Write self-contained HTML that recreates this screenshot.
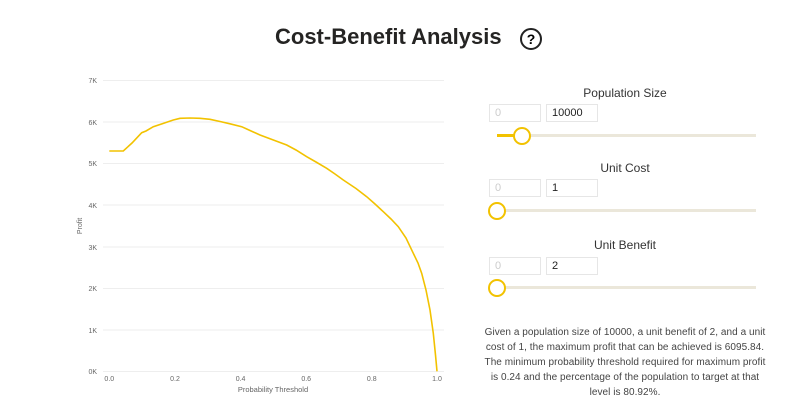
<!DOCTYPE html>
<html><head><meta charset="utf-8"><style>
body{margin:0;width:800px;height:414px;background:#fff;font-family:"Liberation Sans",sans-serif;position:relative;overflow:hidden}
.t{position:absolute;white-space:nowrap}
.lbl{position:absolute;left:489px;width:272px;text-align:center;font-size:12px;color:#333}
.in{position:absolute;width:52px;height:18px;border:1px solid #e6e6e6;font-size:11px;line-height:17px;padding-left:5px;box-sizing:border-box;color:#222}
.track{position:absolute;left:497px;width:259px;height:3px;background:#ebe7da}
.thumb{position:absolute;width:14px;height:14px;border:2px solid #f2c200;border-radius:50%;background:#fff}
p{position:absolute;left:460px;width:330px;margin:0;text-align:center;font-size:10px;letter-spacing:0.05px;line-height:15px;color:#444;white-space:nowrap}
</style></head><body>
<div class="t" style="left:275px;top:24px;font-size:22px;font-weight:bold;color:#252423">Cost-Benefit Analysis</div>
<div class="t" style="left:520px;top:28px;width:18px;height:18px;border:2px solid #222;border-radius:50%;text-align:center;font-size:14px;font-weight:bold;line-height:18px">?</div>
<svg width="480" height="414" style="position:absolute;left:0;top:0" font-family="Liberation Sans, sans-serif">
<g stroke="#eee" stroke-width="1">
<line x1="103" x2="444" y1="80.5" y2="80.5"/><line x1="103" x2="444" y1="122" y2="122"/><line x1="103" x2="444" y1="163.5" y2="163.5"/><line x1="103" x2="444" y1="205" y2="205"/><line x1="103" x2="444" y1="247" y2="247"/><line x1="103" x2="444" y1="288.5" y2="288.5"/><line x1="103" x2="444" y1="330" y2="330"/><line x1="103" x2="444" y1="371.5" y2="371.5"/>
</g>
<g font-size="7" fill="#666" text-anchor="end">
<text x="97" y="83">7K</text><text x="97" y="125">6K</text><text x="97" y="166">5K</text><text x="97" y="208">4K</text><text x="97" y="250">3K</text><text x="97" y="291">2K</text><text x="97" y="333">1K</text><text x="97" y="374">0K</text>
</g>
<g font-size="7" fill="#666" text-anchor="middle">
<text x="109.3" y="381">0.0</text><text x="175" y="381">0.2</text><text x="240.6" y="381">0.4</text><text x="306.2" y="381">0.6</text><text x="371.8" y="381">0.8</text><text x="437" y="381">1.0</text>
<text x="273" y="392" font-size="7.5">Probability Threshold</text>
<text transform="translate(82,226) rotate(-90)" font-size="7">Profit</text>
</g>
<polyline fill="none" stroke="#f2c200" stroke-width="1.6" points="109.3,151 123.3,151 132,143 141.7,132.7 146,131 153.3,126.7 163,123.5 173.3,120 180,118.3 190,118 200,118.3 210,119.3 220,121.5 230,123.8 241.7,126.7 250,130.5 260,135 272,139.5 286.7,145 296,150 306.7,156.7 316,162 326.7,168.3 335,174 343.3,180 356,188.5 366.7,196.7 375,204 383.3,211.7 391,219 398.3,226.7 406,238 413.3,253.3 418,263 421.7,273.3 426,290 430,310 433.3,333.3 435.5,355 437,371.3"/>
</svg>
<div class="lbl" style="top:86px">Population Size</div>
<div class="in" style="left:489px;top:104px;color:#ccc">0</div>
<div class="in" style="left:546px;top:104px">10000</div>
<div class="track" style="top:134px"></div>
<div class="track" style="top:134px;width:20px;background:#f2c200"></div>
<div class="thumb" style="left:513px;top:127px"></div>
<div class="lbl" style="top:161px">Unit Cost</div>
<div class="in" style="left:489px;top:179px;color:#ccc">0</div>
<div class="in" style="left:546px;top:179px">1</div>
<div class="track" style="top:209px"></div>
<div class="thumb" style="left:488px;top:202px"></div>
<div class="lbl" style="top:238px">Unit Benefit</div>
<div class="in" style="left:489px;top:257px;color:#ccc">0</div>
<div class="in" style="left:546px;top:257px">2</div>
<div class="track" style="top:286px"></div>
<div class="thumb" style="left:488px;top:279px"></div>
<p style="top:325px">Given a population size of 10000, a unit benefit of 2, and a unit<br>cost of 1, the maximum profit that can be achieved is 6095.84.<br>The minimum probability threshold required for maximum profit<br>is 0.24 and the percentage of the population to target at that<br>level is 80.92%.</p>
</body></html>
